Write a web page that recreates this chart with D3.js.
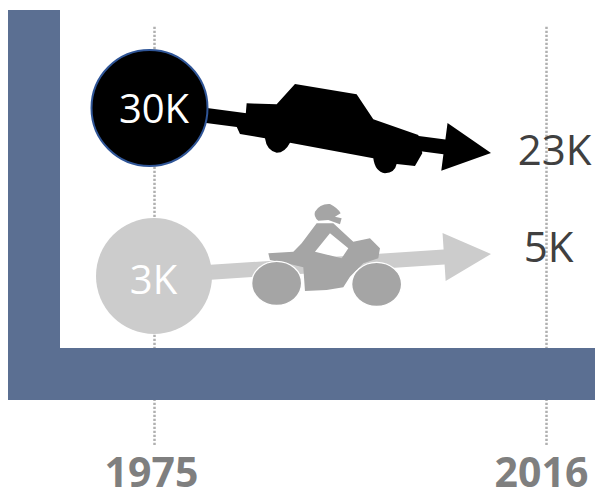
<!DOCTYPE html>
<html><head><meta charset="utf-8">
<script src="https://cdn.jsdelivr.net/npm/d3@7/dist/d3.min.js"></script>
<style>html,body{margin:0;padding:0;background:#fff}svg{display:block}text{font-family:"Open Sans","Noto Sans",sans-serif}</style>
</head><body><svg id="c" width="595" height="490">
<defs><filter id="soft" x="-5%" y="-5%" width="110%" height="110%"><feGaussianBlur stdDeviation="1.6"/></filter></defs>
</svg>
<script>
const years = [1975, 2016];
const seriesNames = ["Cars", "Motorcycles"];
const startValues = [30, 3];
const endValues = [23, 5];
const startLabels = ["30K", "3K"];
const endLabels = ["23K", "5K"];

const CAR = "M500 130L590 133L645 72L830 103L880 178L1015 225L1027 280L1005 318L950 312Q945 338 915 340Q885 335 880 295L630 248Q615 278 590 278Q560 272 555 235L480 222L470 200L495 190Z";
const BIKE_BODY = "M665 160L710 100L760 100L820 155L870 145L900 175L895 205L850 220L810 260L790 292L740 300L675 303L670 232L620 220L570 210L565 190L640 185L660 165ZM705 185L785 205L805 175L750 130Z";
const BIKE_HELMET = "M705 65Q720 40 750 42Q775 55 782 70L765 80L785 85L780 103L745 90L715 92Q700 80 705 65Z";

const svg = d3.select("#c");
const x = d3.scaleLinear().domain(years).range([154, 546]);
const y = d3.scaleLinear().domain([3, 5, 23, 30]).range([276, 254, 153, 108]);
const tipX = x(2016) - 55;

const axis = d3.axisBottom(x).tickValues(years).tickFormat(d3.format("d")).tickSize(0).tickPadding(0);
const ax = svg.append("g").attr("transform", "translate(0,445)").call(axis);
ax.select(".domain").remove();
ax.selectAll(".tick line").attr("y1", 0).attr("y2", -419)
  .attr("stroke", "#b0b0b0").attr("stroke-width", 2.5).attr("stroke-dasharray", "2.2 1.8");
ax.selectAll(".tick text").attr("x", (d, i) => i === 0 ? -3 : -5).attr("y", 42).attr("dy", 0)
  .attr("font-size", 41).attr("font-weight", 700).attr("fill", "#7f7f7f")
  .style("font-family", '"Open Sans","Noto Sans",sans-serif');

const frame = "#5b6f92";
svg.append("rect").attr("x", 8).attr("y", 10).attr("width", 52).attr("height", 390).attr("fill", frame);
svg.append("rect").attr("x", 8).attr("y", 348).attr("width", 587).attr("height", 52).attr("fill", frame);

const fills = ["#000000", "#cccccc"];
const iconFills = ["#000000", "#a5a5a5"];
const circleX = [149.5, 154];
const shaftW = [15, 15], headLen = [47, 47], headW = [24, 24];

function arrow(x0, y0, x1, y1, sw, hl, hw) {
  const a = Math.atan2(y1 - y0, x1 - x0), c = Math.cos(a), s = Math.sin(a);
  const P = (u, v) => [x0 + u * c - v * s, y0 + u * s + v * c];
  const L = Math.hypot(x1 - x0, y1 - y0);
  return d3.line()([P(0, -sw / 2), P(L - hl, -sw / 2), P(L - hl, -hw), P(L, 0), P(L - hl, hw), P(L - hl, sw / 2), P(0, sw / 2)]) + "Z";
}

const labelX = [154, 153.5], labelDy = [15, 18];
const endX = [554.5, 548.5], endDy = [12, 8];
seriesNames.forEach((n, i) => {
  const g = svg.append("g").attr("class", n);
  g.append("path").attr("fill", fills[i])
    .attr("d", arrow(circleX[i], y(startValues[i]), tipX, y(endValues[i]), shaftW[i], headLen[i], headW[i]));
  g.append("circle").attr("cx", circleX[i]).attr("cy", y(startValues[i])).attr("r", 58)
    .attr("fill", fills[i]).attr("stroke", i === 0 ? "#2f5597" : "none").attr("stroke-width", 2);
  g.append("text").attr("x", labelX[i]).attr("y", y(startValues[i]) + labelDy[i])
    .attr("text-anchor", "middle").attr("font-size", 40).attr("fill", "#fff").text(startLabels[i]);
  g.append("text").attr("x", endX[i]).attr("y", y(endValues[i]) + endDy[i])
    .attr("text-anchor", "middle").attr("font-size", 42).attr("fill", "#404040").text(endLabels[i]);
});

const car = svg.append("g").attr("transform", "translate(80,60) scale(0.3333)").attr("filter", "url(#soft)");
car.append("path").attr("d", CAR).attr("fill", iconFills[0]);

const bike = svg.append("g").attr("transform", "translate(80,190) scale(0.3333)").attr("fill", iconFills[1]).attr("filter", "url(#soft)");
bike.append("path").attr("d", BIKE_BODY).attr("fill-rule", "evenodd");
bike.append("path").attr("d", BIKE_HELMET);
[[590, 280], [890, 283]].forEach(c => bike.append("ellipse").attr("cx", c[0]).attr("cy", c[1]).attr("rx", 75).attr("ry", 66).attr("stroke", "#fff").attr("stroke-width", 4));
</script></body></html>
